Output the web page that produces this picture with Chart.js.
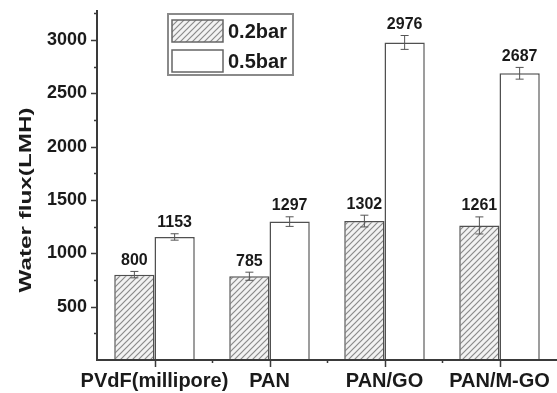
<!DOCTYPE html>
<html>
<head>
<meta charset="utf-8">
<script src="https://cdn.jsdelivr.net/npm/chart.js@4.4.1/dist/chart.umd.min.js"></script>
<style>
  html, body { margin: 0; padding: 0; background: #fff; }
  #wrap { width: 557px; height: 393px; }
</style>
</head>
<body>
<div id="wrap"><canvas id="fluxChart" width="557" height="393"></canvas></div>
<script>
const membranes = ['PVdF(millipore)', 'PAN', 'PAN/GO', 'PAN/M-GO'];
const seriesNames = ['0.2bar', '0.5bar'];
const flux02 = [800, 785, 1302, 1261];
const flux05 = [1153, 1297, 2976, 2687];
const err02 = [30, 38, 55, 80];
const err05 = [30, 45, 65, 55];
const yTicks = [500, 1000, 1500, 2000, 2500, 3000];
const yTitle = 'Water flux(LMH)';

const FONT = "'Liberation Sans', Arial, sans-serif";
const AXIS = '#3a3a3a';
const EDGE = '#505050';

function makeHatch() {
    const c = document.createElement('canvas');
    c.width = 6; c.height = 6;
    const g = c.getContext('2d');
    g.fillStyle = '#f2f2f2';
    g.fillRect(0, 0, 6, 6);
    g.strokeStyle = '#8a8a8a';
    g.lineWidth = 1.2;
    g.beginPath();
    g.moveTo(-1, 7); g.lineTo(7, -1);
    g.moveTo(-1, 1); g.lineTo(1, -1);
    g.moveTo(5, 7); g.lineTo(7, 5);
    g.stroke();
    return g.createPattern(c, 'repeat');
}

document.addEventListener('DOMContentLoaded', () => {
    const ctx = document.getElementById('fluxChart').getContext('2d');
    const hatch = makeHatch();
    const errors = [err02, err05];

    const extras = {
        id: 'extras',
        afterDatasetsDraw(chart) {
            const c = chart.ctx;
            const y = chart.scales.y;
            const x = chart.scales.x;
            const area = chart.chartArea;
            c.save();

            // error bars + value labels
            chart.data.datasets.forEach((ds, di) => {
                const meta = chart.getDatasetMeta(di);
                meta.data.forEach((bar, i) => {
                    const v = ds.data[i];
                    const e = errors[di][i];
                    const top = y.getPixelForValue(v + e);
                    const bot = y.getPixelForValue(v - e);
                    c.strokeStyle = '#555';
                    c.lineWidth = 1;
                    c.beginPath();
                    c.moveTo(bar.x, top); c.lineTo(bar.x, bot);
                    c.moveTo(bar.x - 4, top); c.lineTo(bar.x + 4, top);
                    c.moveTo(bar.x - 4, bot); c.lineTo(bar.x + 4, bot);
                    c.stroke();
                    c.fillStyle = '#1a1a1a';
                    c.font = 'bold 16px ' + FONT;
                    c.textAlign = 'center';
                    c.textBaseline = 'bottom';
                    c.fillText(String(v), bar.x, top - 3);
                });
            });

            // axis lines and ticks
            c.strokeStyle = AXIS;
            c.lineWidth = 2;
            c.beginPath();
            c.moveTo(area.left, area.top);
            c.lineTo(area.left, area.bottom);
            c.lineTo(chart.width, area.bottom);
            c.stroke();
            c.lineWidth = 1.5;
            c.beginPath();
            for (let v = 250; v <= y.max; v += 250) {
                const py = Math.round(y.getPixelForValue(v)) + 0.5;
                const len = v % 500 === 0 ? 6 : 3;
                c.moveTo(area.left, py); c.lineTo(area.left - len, py);
            }
            membranes.forEach((m, i) => {
                const px = Math.round(x.getPixelForValue(i)) + 0.5;
                c.moveTo(px, area.bottom); c.lineTo(px, area.bottom + 7);
                if (i < membranes.length - 1) {
                    const mx = Math.round(x.getPixelForValue(i + 0.5)) + 0.5;
                    c.moveTo(mx, area.bottom); c.lineTo(mx, area.bottom + 3);
                }
            });
            c.stroke();

            // y title
            c.save();
            c.translate(26, 200);
            c.rotate(-Math.PI / 2);
            c.font = 'bold 17px ' + FONT;
            const w = c.measureText(yTitle).width;
            c.scale(185 / w, 1);
            c.fillStyle = '#1a1a1a';
            c.textAlign = 'center';
            c.textBaseline = 'middle';
            c.fillText(yTitle, 0, 0);
            c.restore();

            // legend box
            c.strokeStyle = '#8a8a8a';
            c.lineWidth = 2;
            c.strokeRect(168, 14, 125, 61);
            const rows = [{ y: 20, fill: hatch }, { y: 50, fill: '#ffffff' }];
            rows.forEach((r, i) => {
                c.fillStyle = r.fill;
                c.fillRect(172, r.y, 51, 22);
                c.strokeStyle = '#666';
                c.lineWidth = 1.5;
                c.strokeRect(172, r.y, 51, 22);
                c.fillStyle = '#1a1a1a';
                c.font = 'bold 20px ' + FONT;
                c.textAlign = 'left';
                c.textBaseline = 'middle';
                c.fillText(seriesNames[i], 228, r.y + 12);
            });
            c.restore();
        }
    };

    new Chart(ctx, {
        type: 'bar',
        data: {
            labels: membranes,
            datasets: [
                { label: seriesNames[0], data: flux02, backgroundColor: hatch, borderColor: EDGE, borderWidth: 1.5 },
                { label: seriesNames[1], data: flux05, backgroundColor: '#ffffff', borderColor: EDGE, borderWidth: 1.5 }
            ]
        },
        options: {
            responsive: false,
            animation: false,
            layout: { padding: { top: 10, right: 0, left: 0, bottom: 0 } },
            datasets: { bar: { categoryPercentage: 0.7, barPercentage: 1.0 } },
            scales: {
                x: {
                    grid: { display: false, drawTicks: false },
                    border: { display: false },
                    ticks: {
                        color: '#1a1a1a', font: { family: FONT, size: 20, weight: 'bold' },
                        padding: 9, maxRotation: 0, minRotation: 0, autoSkip: false
                    },
                    afterFit: s => { s.height = 33; s.paddingLeft = 0; s.paddingRight = 0; }
                },
                y: {
                    min: 0,
                    max: 3280,
                    grid: { display: false, drawTicks: false },
                    border: { display: false },
                    afterBuildTicks: s => { s.ticks = yTicks.map(v => ({ value: v })); },
                    ticks: {
                        autoSkip: false,
                        color: '#1a1a1a',
                        font: { family: FONT, size: 18, weight: 'bold' },
                        padding: 10,
                        callback: v => String(v)
                    },
                    afterFit: s => { s.width = 97; s.paddingTop = 0; s.paddingBottom = 0; }
                }
            },
            plugins: { legend: { display: false }, tooltip: { enabled: false } }
        },
        plugins: [extras]
    });
});
</script>
</body>
</html>
